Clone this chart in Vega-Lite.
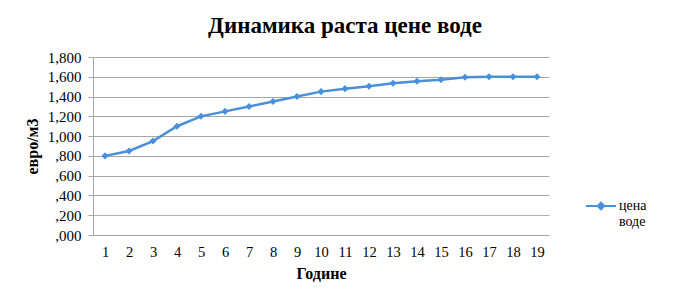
{
  "$schema": "https://vega.github.io/schema/vega-lite/v6.json",
  "autosize": {"type": "none"},
  "width": 456,
  "height": 178,
  "padding": {"left": 93, "top": 57, "right": 142, "bottom": 67},
  "background": "white",
  "title": {
    "text": "Динамика раста цене воде",
    "font": "Liberation Serif",
    "fontSize": 23,
    "fontWeight": "bold",
    "color": "#000000",
    "anchor": "middle",
    "dx": 24,
    "offset": 12
  },
  "data": {
    "values": [
      {"godina": 1, "cena": 800, "serija": "цена воде"},
      {"godina": 2, "cena": 850, "serija": "цена воде"},
      {"godina": 3, "cena": 950, "serija": "цена воде"},
      {"godina": 4, "cena": 1100, "serija": "цена воде"},
      {"godina": 5, "cena": 1200, "serija": "цена воде"},
      {"godina": 6, "cena": 1250, "serija": "цена воде"},
      {"godina": 7, "cena": 1300, "serija": "цена воде"},
      {"godina": 8, "cena": 1350, "serija": "цена воде"},
      {"godina": 9, "cena": 1400, "serija": "цена воде"},
      {"godina": 10, "cena": 1450, "serija": "цена воде"},
      {"godina": 11, "cena": 1480, "serija": "цена воде"},
      {"godina": 12, "cena": 1505, "serija": "цена воде"},
      {"godina": 13, "cena": 1535, "serija": "цена воде"},
      {"godina": 14, "cena": 1555, "serija": "цена воде"},
      {"godina": 15, "cena": 1570, "serija": "цена воде"},
      {"godina": 16, "cena": 1595, "serija": "цена воде"},
      {"godina": 17, "cena": 1600, "serija": "цена воде"},
      {"godina": 18, "cena": 1600, "serija": "цена воде"},
      {"godina": 19, "cena": 1600, "serija": "цена воде"}
    ]
  },
  "mark": {
    "type": "line",
    "strokeWidth": 2.5,
    "point": {"shape": "diamond", "size": 50, "filled": true, "opacity": 1}
  },
  "encoding": {
    "x": {
      "field": "godina",
      "type": "ordinal",
      "scale": {"type": "point", "padding": 0.5},
      "axis": {
        "title": "Године",
        "titleFont": "Liberation Serif",
        "titleFontSize": 16,
        "titleFontWeight": "bold",
        "titleColor": "#000000",
        "titlePadding": 7,
        "labelAngle": 0,
        "labelFont": "Liberation Serif",
        "labelFontSize": 14.5,
        "labelColor": "#000000",
        "labelPadding": 10,
        "ticks": false,
        "domainColor": "#a6a6a6",
        "grid": false
      }
    },
    "y": {
      "field": "cena",
      "type": "quantitative",
      "scale": {"domain": [0, 1800], "nice": false},
      "axis": {
        "title": "евро/м3",
        "titleFont": "Liberation Serif",
        "titleFontSize": 16,
        "titleFontWeight": "bold",
        "titleColor": "#000000",
        "titlePadding": 7,
        "values": [0, 200, 400, 600, 800, 1000, 1200, 1400, 1600, 1800],
        "labelExpr": "datum.value >= 1000 ? format(datum.value, ',') : ',' + format(datum.value, '03d')",
        "labelFont": "Liberation Serif",
        "labelFontSize": 15,
        "labelColor": "#000000",
        "labelPadding": 7,
        "tickSize": 5,
        "tickColor": "#a6a6a6",
        "domainColor": "#a6a6a6",
        "grid": true,
        "gridColor": {"condition": {"test": "datum.value === 200", "value": "#bba9c9"}, "value": "#a6a6a6"},
        "gridOpacity": 1
      }
    },
    "color": {
      "field": "serija",
      "type": "nominal",
      "scale": {"range": ["#4a90d9"]},
      "legend": {
        "title": null,
        "orient": "none",
        "legendX": 492,
        "legendY": 133,
        "symbolType": "M-1,0H1M0,-0.22L0.22,0L0,0.22L-0.22,0Z",
        "symbolSize": 900,
        "symbolStrokeWidth": 2,
        "symbolFillColor": "#4a90d9",
        "labelExpr": "split(datum.label, ' ')",
        "labelFont": "Liberation Serif",
        "labelFontSize": 14,
        "labelColor": "#000000",
        "labelOffset": 2,
        "labelBaseline": "middle"
      }
    }
  },
  "config": {"view": {"stroke": null}}
}
